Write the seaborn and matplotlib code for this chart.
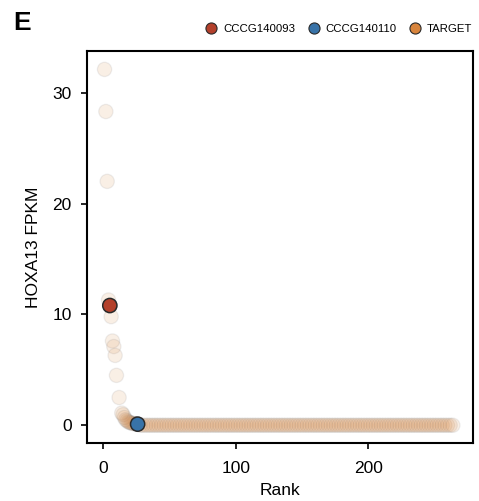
import matplotlib
matplotlib.use("Agg")
import matplotlib.pyplot as plt
from matplotlib.lines import Line2D
import seaborn as sns
import pandas as pd

# ---- data ----
head_ranks = [1, 2, 3, 4, 5, 6, 7, 8, 9, 10, 12, 14, 15, 16, 17, 18, 19, 20,
              21, 22, 23, 24, 25, 26]
head_values = [32.1, 28.3, 22.0, 11.3, 10.8, 9.8, 7.6, 7.1, 6.3, 4.5,
               2.5, 1.1, 0.95, 0.7, 0.5, 0.4, 0.3, 0.25, 0.2, 0.18,
               0.15, 0.13, 0.12, 0.1]
tail_ranks = list(range(28, 266, 2))
tail_values = [0.0] * len(tail_ranks)
ranks = head_ranks + tail_ranks
fpkm = head_values + tail_values
cohort = ["TARGET"] * len(fpkm)
cohort[4] = "CCCG140093"    # rank 5
cohort[23] = "CCCG140110"   # rank 26

legend_labels = ["CCCG140093", "CCCG140110", "TARGET"]
palette = {"CCCG140093": "#B3402B", "CCCG140110": "#3873A8", "TARGET": "#D8843C"}

df = pd.DataFrame({"Rank": ranks, "FPKM": fpkm, "cohort": cohort})

sns.set_style("white")
plt.rcParams["font.family"] = ["Liberation Sans", "DejaVu Sans"]
plt.rcParams["text.color"] = "black"
plt.rcParams["axes.labelcolor"] = "black"

fig = plt.figure(figsize=(4.79, 5.01), dpi=100)
ax = fig.add_axes([0.1816, 0.1158, 0.8059, 0.7822])

bg = df[df.cohort == "TARGET"]
hl = df[df.cohort != "TARGET"]
sns.scatterplot(data=bg, x="Rank", y="FPKM", hue="cohort", palette=palette,
                s=105, alpha=0.13, edgecolor="#7f7f7f", linewidth=0.9,
                legend=False, ax=ax, zorder=2)
sns.scatterplot(data=hl, x="Rank", y="FPKM", hue="cohort", palette=palette,
                s=105, alpha=1.0, edgecolor="#2a2a2a", linewidth=1.1,
                legend=False, ax=ax, zorder=3)

ax.set_xlim(-12.25, 279.25)
ax.set_ylim(-1.6, 33.75)
ax.set_xticks([0, 100, 200])
ax.set_yticks([0, 10, 20, 30])
ax.set_xlabel("Rank", fontsize=12.5, labelpad=5, color="black")
ax.set_ylabel("HOXA13 FPKM", fontsize=12.5, labelpad=8, color="black")
ax.tick_params(axis="both", direction="out", length=4, width=1.2, color="black",
               labelsize=12.5, labelcolor="black", bottom=True, left=True)
ax.tick_params(axis="y", pad=7)
ax.tick_params(axis="x", pad=9)
for sp in ax.spines.values():
    sp.set_color("black")
    sp.set_linewidth(1.5)

handles = [Line2D([0], [0], marker="o", linestyle="", markersize=8,
                  markerfacecolor=palette[k], markeredgecolor="#2a2a2a",
                  markeredgewidth=0.8, label=k) for k in legend_labels]
leg = fig.legend(handles=handles, loc="center right", bbox_to_anchor=(1.0, 0.942),
                 ncol=3, frameon=False, fontsize=8.2, handletextpad=0.05,
                 columnspacing=0.6, borderaxespad=0.2)
for t in leg.get_texts():
    t.set_color("black")

fig.text(0.027, 0.93, "E", fontsize=19, fontweight="bold", ha="left",
         va="bottom", color="black")

fig.savefig("out.png", dpi=100)
